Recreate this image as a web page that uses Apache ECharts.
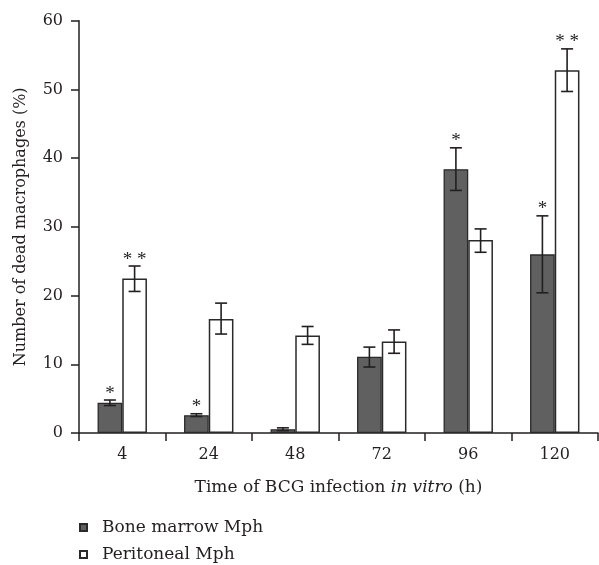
<!DOCTYPE html>
<html><head><meta charset="utf-8">
<script src="https://cdn.jsdelivr.net/npm/echarts@6/dist/echarts.min.js"></script>
<style>html,body{margin:0;padding:0;background:#fff}#c{width:599px;height:565px}</style>
</head><body><div id="c"></div>
<script>
var categories = ['4','24','48','72','96','120'];
var boneMarrow = [4.4, 2.6, 0.55, 11.1, 38.4, 26.0];
var boneMarrowLow = [4.0, 2.4, 0.35, 9.6, 35.3, 20.4];
var boneMarrowHigh = [4.8, 2.8, 0.75, 12.5, 41.5, 31.6];
var boneMarrowStars = ['*', '*', '', '', '*', '*'];
var peritoneal = [22.5, 16.6, 14.2, 13.3, 28.1, 52.8];
var peritonealLow = [20.6, 14.4, 12.9, 11.6, 26.3, 49.7];
var peritonealHigh = [24.3, 18.9, 15.5, 15.0, 29.7, 55.9];
var peritonealStars = ['**', '', '', '', '', '**'];
var yTicks = [0, 10, 20, 30, 40, 50, 60];

var FONT = 'DejaVu Serif';
var FS = 16;
var FS2 = 17;
var INK = '#231f20';
var BAR_W = 24.7;

function errData(low, high, stars) {
  return categories.map(function (c, i) { return [i, low[i], high[i], stars[i]]; });
}
function makeErr(offsetSign, low, high, stars) {
  return {
    type: 'custom',
    silent: true,
    z: 5,
    data: errData(low, high, stars),
    encode: { x: 0, y: [1, 2] },
    renderItem: function (params, api) {
      var top = api.coord([api.value(0), api.value(2)]);
      var bot = api.coord([api.value(0), api.value(1)]);
      var x = top[0] + offsetSign * BAR_W / 2;
      var cap = 6;
      var st = { stroke: INK, lineWidth: 1.6 };
      var children = [
        { type: 'line', shape: { x1: x, y1: top[1], x2: x, y2: bot[1] }, style: st },
        { type: 'line', shape: { x1: x - cap, y1: top[1], x2: x + cap, y2: top[1] }, style: st },
        { type: 'line', shape: { x1: x - cap, y1: bot[1], x2: x + cap, y2: bot[1] }, style: st }
      ];
      var s = stars[params.dataIndex];
      if (s) {
        children.push({ type: 'text', style: { text: s.split('').join(' '), x: x, y: top[1] + 3, align: 'center', verticalAlign: 'bottom', fill: INK, font: '19px "Liberation Serif"' } });
      }
      return { type: 'group', children: children };
    }
  };
}

var chart = echarts.init(document.getElementById('c'), null, { renderer: 'canvas' });
chart.setOption({
  animation: false,
  backgroundColor: '#fff',
  textStyle: { fontFamily: FONT, color: INK },
  grid: { left: 79, right: 1, top: 20.7, bottom: 132, containLabel: false },
  legend: {
    orient: 'vertical', left: 79, top: 519, padding: 0, itemGap: 10, itemWidth: 7, itemHeight: 7,
    icon: 'rect',
    textStyle: { fontFamily: FONT, fontSize: FS2, color: INK, padding: [0, 0, 0, 10] },
    data: ['Bone marrow Mph', 'Peritoneal Mph']
  },
  xAxis: {
    type: 'category', data: categories,
    axisLine: { lineStyle: { color: INK, width: 1.5 } },
    axisTick: { show: true, length: 8, lineStyle: { color: INK, width: 1.5 } },
    axisLabel: { fontFamily: FONT, fontSize: FS, color: INK, margin: 14 },
    name: '{a|Time of BCG infection }{b|in vitro}{a| (h)}',
    nameLocation: 'middle', nameGap: 46,
    nameTextStyle: { rich: { a: { fontFamily: FONT, fontSize: FS2, color: INK }, b: { fontFamily: FONT, fontSize: FS2, color: INK, fontStyle: 'italic' } } }
  },
  yAxis: {
    type: 'value', min: 0, max: 60, interval: 10,
    axisLine: { show: true, lineStyle: { color: INK, width: 1.5 } },
    axisTick: { show: true, length: 8, lineStyle: { color: INK, width: 1.5 } },
    splitLine: { show: false },
    axisLabel: { fontFamily: FONT, fontSize: FS, color: INK, margin: 16,
      formatter: function (v) { return yTicks.indexOf(v) >= 0 ? String(v) : ''; } },
    name: 'Number of dead macrophages (%)', nameLocation: 'middle', nameGap: 50, nameRotate: 90,
    nameTextStyle: { fontFamily: FONT, fontSize: FS, color: INK }
  },
  series: [
    { name: 'Bone marrow Mph', type: 'bar', data: boneMarrow, barWidth: BAR_W, barGap: '0%',
      itemStyle: { color: '#606060', borderColor: '#2a2a2a', borderWidth: 1.3 } },
    { name: 'Peritoneal Mph', type: 'bar', data: peritoneal, barWidth: BAR_W, barGap: '0%',
      itemStyle: { color: '#ffffff', borderColor: '#2a2a2a', borderWidth: 1.5 } },
    makeErr(-1, boneMarrowLow, boneMarrowHigh, boneMarrowStars),
    makeErr(1, peritonealLow, peritonealHigh, peritonealStars)
  ]
});
</script></body></html>
